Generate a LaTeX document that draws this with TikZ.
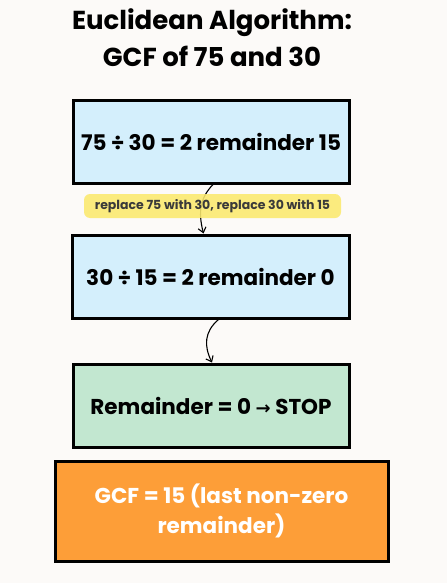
\documentclass[tikz,border=0pt]{standalone}
\usepackage{fontspec}
\setmainfont{Poppins}
\newfontfamily\symfont{DejaVu Sans}
\usepackage{xcolor}
\usetikzlibrary{arrows.meta,positioning}

\definecolor{bgpaper}{HTML}{FCFAF8}
\definecolor{stepblue}{HTML}{D4EFFC}
\definecolor{stepgreen}{HTML}{C2E7D0}
\definecolor{stepgold}{HTML}{FD9E38}
\definecolor{notefill}{HTML}{FBE96E}
\definecolor{notetext}{HTML}{3A3A3A}

\begin{document}
\begin{tikzpicture}[
  x=1pt,y=-1pt,
  stepbox/.style={draw, line width=3pt, align=center, inner sep=0pt, font=\bfseries\fontsize{21.5}{30}\selectfont},
  note/.style={fill=notefill, fill opacity=0.88, text opacity=1, rounded corners=6pt, minimum width=257pt, minimum height=24pt, inner sep=0pt, text=notetext, font=\bfseries\fontsize{12.5}{14}\selectfont},
  arrow/.style={-{Straight Barb[length=5pt,width=8pt]}, line width=1.1pt}
]
\useasboundingbox[fill=bgpaper] (0,0) rectangle (447,583);

\node[font=\bfseries\fontsize{26}{37}\selectfont, align=center] (title) at (212,38) {Euclidean Algorithm:\\GCF of 75 and 30};

\node[stepbox, fill=stepblue, minimum width=276pt, minimum height=82pt] (first) at (211,142) {75 ÷ 30 = 2 remainder 15};
\node[stepbox, fill=stepblue, minimum width=277pt, minimum height=83pt] (second) at (210.5,276.5) {30 ÷ 15 = 2 remainder 0};
\node[stepbox, fill=stepgreen, minimum width=276pt, minimum height=83pt] (stop) at (211,405.5) {Remainder = 0 {\symfont\bfseries\fontsize{18}{18}\selectfont →} STOP};
\node[stepbox, fill=stepgold, text=white, minimum width=333pt, minimum height=100pt] (result) at (221.5,511) {GCF = 15 (last non-zero\\remainder)};

\draw[arrow] ([xshift=2pt]first.south) .. controls (200,198) and (198,212) .. ([xshift=-7pt]second.north);
\node[note] (swap) at (212.5,206) {replace 75 with 30, replace 30 with 15};

\draw[arrow] ([xshift=8pt]second.south) .. controls (204,332) and (204,346) .. ([xshift=1pt]stop.north);
\end{tikzpicture}
\end{document}
